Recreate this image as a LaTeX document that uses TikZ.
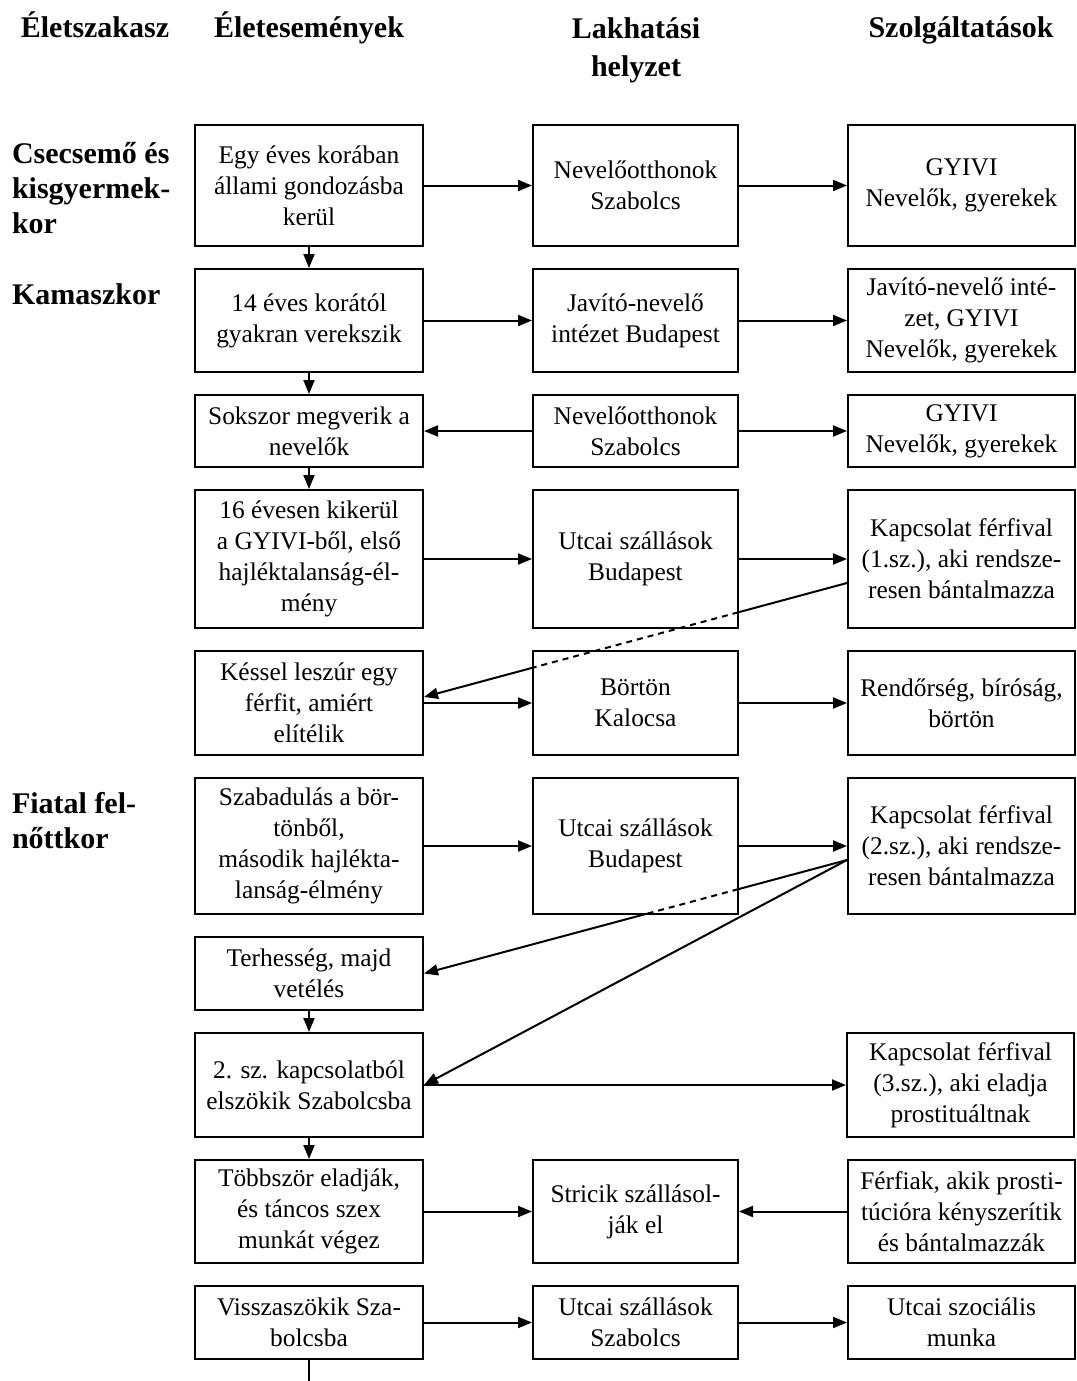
\documentclass[tikz,border=0pt]{standalone}
\usepackage{fontspec}
\setmainfont{Liberation Serif}
\usetikzlibrary{arrows.meta,positioning,calc}

\begin{document}
\begin{tikzpicture}[x=0.5pt,y=-0.5pt,->,>={Triangle[length=7pt,width=5.5pt]},
  line width=1pt,node distance=10.5pt and 54pt,
  box/.style={draw,line width=1pt,align=center,inner sep=2pt,
    font=\fontsize{12.7}{15.5}\selectfont},
  life box/.style={box,minimum width=114pt},
  home box/.style={box,minimum width=102.5pt},
  help box/.style={box,minimum width=113.5pt},
  head/.style={font=\fontsize{15}{19}\selectfont\bfseries,
    align=center,inner sep=0pt,anchor=base},
  phase/.style={font=\fontsize{15}{17.5}\selectfont\bfseries,
    align=left,inner sep=0pt,anchor=north west}]

  \useasboundingbox (0,0) rectangle (1076,1381);

  % column heads (base of a two-line head is its last line)
  \node[head] (hPhase) at (95,38) {Életszakasz};
  \node[head] (hLife) at (309,38) {Életesemények};
  \node[head] (hHome) at (636,76) {Lakhatási\\helyzet};
  \node[head] (hHelp) at (961,38) {Szolgáltatások};

  % life stages
  \node[phase] (pBaby) at (11,141) {Csecsemő és\\kisgyermek-\\kor};
  \node[phase] (pTeen) at (11,283) {Kamaszkor};
  \node[phase] (pYoung) at (11,791) {Fiatal fel-\\nőttkor};

  \node[life box,minimum height=60.5pt] (L1) at (309,185.5) {Egy éves korában\\állami gondozásba\\kerül};
  \node[home box,minimum height=60.5pt] (H1) [right=of L1] {Nevelőotthonok\\Szabolcs};
  \node[help box,minimum height=60.5pt] (S1) [right=of H1] {GYIVI\\Nevelők, gyerekek};

  \node[life box,minimum height=51.5pt] (L2) [below=of L1] {14 éves korától\\gyakran verekszik};
  \node[home box,minimum height=51.5pt] (H2) [right=of L2] {Javító-nevelő\\intézet Budapest};
  \node[help box,minimum height=51.5pt] (S2) [right=of H2] {Javító-nevelő inté-\\zet, GYIVI\\Nevelők, gyerekek};

  \node[life box,minimum height=36pt] (L3) [below=of L2] {Sokszor megverik a\\nevelők};
  \node[home box,minimum height=36pt] (H3) [right=of L3] {Nevelőotthonok\\Szabolcs};
  \node[help box,minimum height=36pt] (S3) [right=of H3] {GYIVI\\Nevelők, gyerekek};

  \node[life box,minimum height=69pt] (L4) [below=of L3] {16 évesen kikerül\\a GYIVI-ből, első\\hajléktalanság-él-\\mény};
  \node[home box,minimum height=69pt] (H4) [right=of L4] {Utcai szállások\\Budapest};
  \node[help box,minimum height=69pt] (S4) [right=of H4] {Kapcsolat férfival\\(1.sz.), aki rendsze-\\resen bántalmazza};

  \node[life box,minimum height=52pt] (L5) [below=of L4] {Késsel leszúr egy\\férfit, amiért\\elítélik};
  \node[home box,minimum height=52pt] (H5) [right=of L5] {Börtön\\Kalocsa};
  \node[help box,minimum height=52pt] (S5) [right=of H5] {Rendőrség, bíróság,\\börtön};

  \node[life box,minimum height=68pt] (L6) [below=of L5] {Szabadulás a bör-\\tönből,\\második hajlékta-\\lanság-élmény};
  \node[home box,minimum height=68pt] (H6) [right=of L6] {Utcai szállások\\Budapest};
  \node[help box,minimum height=68pt] (S6) [right=of H6] {Kapcsolat férfival\\(2.sz.), aki rendsze-\\resen bántalmazza};

  \node[life box,minimum height=36.5pt] (L7) [below=of L6] {Terhesség, majd\\vetélés};

  \node[life box,minimum height=52pt] (L8) [below=of L7] {2. sz. kapcsolatból\\elszökik Szabolcsba};
  \node[help box,minimum height=52pt] (S8) [right=211pt of L8] {Kapcsolat férfival\\(3.sz.), aki eladja\\prostituáltnak};

  \node[life box,minimum height=51.5pt] (L9) [below=of L8] {Többször eladják,\\és táncos szex\\munkát végez};
  \node[home box,minimum height=51.5pt] (H9) [right=of L9] {Stricik szállásol-\\ják el};
  \node[help box,minimum height=51.5pt] (S9) [right=of H9] {Férfiak, akik prosti-\\túcióra kényszerítik\\és bántalmazzák};

  \node[life box,minimum height=36.5pt] (L10) [below=of L9] {Visszaszökik Sza-\\bolcsba};
  \node[home box,minimum height=36.5pt] (H10) [right=of L10] {Utcai szállások\\Szabolcs};
  \node[help box,minimum height=36.5pt] (S10) [right=of H10] {Utcai szociális\\munka};

  \coordinate (end) at (309,1381);

  \path
    (L1) edge (H1) (H1) edge (S1)
    (L2) edge (H2) (H2) edge (S2)
    (H3) edge (L3) (H3) edge (S3)
    (L4) edge (H4) (H4) edge (S4)
    (L5) edge (H5) (H5) edge (S5)
    (L6) edge (H6) (H6) edge (S6)
    (L8) edge (S8)
    (L9) edge (H9) (S9) edge (H9)
    (L10) edge (H10) (H10) edge (S10)
    (L1) edge (L2) (L2) edge (L3) (L3) edge (L4)
    (L7) edge (L8) (L8) edge (L9)
    (L10) edge[-] (end);

  % back links from the partners; dashed where they run behind the middle column
  \coordinate (a1) at ([yshift=-12pt]S4.west);
  \coordinate (b1) at ([yshift=3pt]L5.east);
  \coordinate (a1x) at ($(a1)!0.257!(b1)$);
  \coordinate (b1x) at ($(a1)!0.741!(b1)$);
  \draw[-] (a1) -- (a1x);
  \draw[-,dash pattern=on 3pt off 2.5pt] (a1x) -- (b1x);
  \draw (b1x) -- (b1);

  \coordinate (a2) at ([yshift=-7pt]S6.west);
  \coordinate (b2) at (L7.east);
  \coordinate (a2x) at ($(a2)!0.257!(b2)$);
  \coordinate (b2x) at ($(a2)!0.478!(b2)$);
  \draw[-] (a2) -- (a2x);
  \draw[-,dash pattern=on 3pt off 2.5pt] (a2x) -- (b2x);
  \draw (b2x) -- (b2);
  \draw (a2) -- (L8.east);

\end{tikzpicture}
\end{document}
